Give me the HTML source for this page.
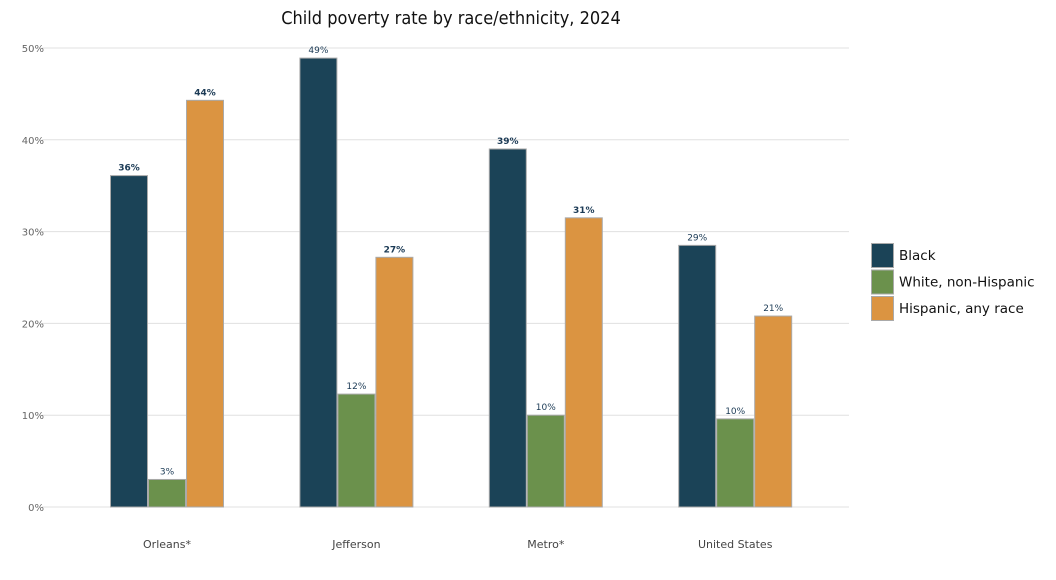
<!DOCTYPE html>
<html><head><meta charset="utf-8">
<style>
html,body{margin:0;padding:0;background:#fff;}
body{width:1056px;height:576px;overflow:hidden;font-family:"DejaVu Sans","Liberation Sans",sans-serif;}
</style></head>
<body>
<svg id="chart" width="1056" height="576" xmlns="http://www.w3.org/2000/svg">
<text x="451" y="24" text-anchor="middle" font-size="18" fill="#111" font-family="DejaVu Sans Condensed, DejaVu Sans, sans-serif">Child poverty rate by race/ethnicity, 2024</text>
<g id="grid"></g><g id="bars"></g><g id="labels"></g>
<g id="legend"></g>
</svg>
<script>
const categories = ["Orleans*", "Jefferson", "Metro*", "United States"];
const seriesNames = ["Black", "White, non-Hispanic", "Hispanic, any race"];
const black = [36.1, 48.9, 39.0, 28.5];
const white = [3.0, 12.3, 10.0, 9.6];
const hispanic = [44.3, 27.2, 31.5, 20.8];
const valueLabels = [["36%","49%","39%","29%"],["3%","12%","10%","10%"],["44%","27%","31%","21%"]];
const yTicks = [0, 10, 20, 30, 40, 50];
const series = [black, white, hispanic];
const colors = ["#1b4357", "#6b914c", "#db9441"];
const bold = [[true,false,true,false],[false,false,false,false],[true,true,true,false]];

const NS = "http://www.w3.org/2000/svg";
const y0 = 507, pxPer = 9.18;
const yScale = v => y0 - v * pxPer;
const groupX = i => 167 + i * 189.4;
const barW = 37;
function mk(tag, attrs, parent, txt){const e=document.createElementNS(NS,tag);for(const k in attrs)e.setAttribute(k,attrs[k]);if(txt!==undefined)e.textContent=txt;parent.appendChild(e);return e;}
const grid=document.getElementById('grid'), bars=document.getElementById('bars'), labels=document.getElementById('labels'), legend=document.getElementById('legend');
yTicks.forEach(t=>{
  const l=mk('line',{x1:42,x2:849,y1:yScale(t),y2:yScale(t),stroke:'#e0e0e0','stroke-width':1},grid);
  
  
  const tx=mk('text',{x:44,y:yScale(t)+4,'text-anchor':'end','font-size':10,fill:'#666'},grid,t+'%');
  
  
});
categories.forEach((c,i)=>{
  const tx=mk('text',{x:groupX(i),y:548,'text-anchor':'middle','font-size':11,fill:'#444'},labels,c);
  
  
  series.forEach((s,j)=>{
    const x=groupX(i)+(j-1.5)*(barW+1)+0.5;
    const r=mk('rect',{x:x,y:yScale(s[i]),width:barW,height:y0-yScale(s[i]),fill:colors[j],stroke:'#aaa','stroke-width':1},bars);
    
    
    const v=mk('text',{x:x+barW/2,y:yScale(s[i])-5,'text-anchor':'middle','font-size':9,fill:'#1b3a55','font-weight':bold[j][i]?'bold':'normal'},labels,valueLabels[j][i]);
    
    
  });
});
seriesNames.forEach((n,j)=>{
  const y=243+j*26.5;
  const r=mk('rect',{x:871.5,y:y+0.5,width:22,height:24,fill:colors[j],stroke:'#aaa','stroke-width':1},legend);
  
  
  const t=mk('text',{x:899,y:y+17,'font-size':13.5,fill:'#111'},legend,n);
  
  
});
</script>
</body></html>
